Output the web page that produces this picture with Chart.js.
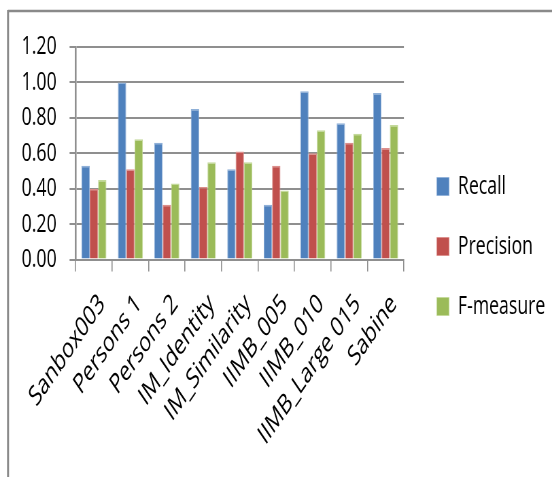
<!DOCTYPE html>
<html>
<head>
<meta charset="utf-8">
<script src="https://cdn.jsdelivr.net/npm/chart.js@4"></script>
<style>
  html, body { margin: 0; padding: 0; background: #fff; overflow: hidden; }
  body { width: 552px; height: 477px; position: relative; }
  /* the chart is laid out wide, then condensed horizontally */
  #stage {
    position: absolute; left: 0; top: 0;
    width: 812px; height: 477px;
    transform: scaleX(0.6798); transform-origin: 0 0;
  }
</style>
</head>
<body>
<div id="stage"><canvas id="chart"></canvas></div>
<script>
// Data sets
const categories = ['Sanbox003', 'Persons 1', 'Persons 2', 'IM_Identity', 'IM_Similarity',
                    'IIMB_005', 'IIMB_010', 'IIMB_Large 015', 'Sabine'];
const recall    = [0.53, 1.00, 0.66, 0.85, 0.51, 0.31, 0.95, 0.77, 0.94];
const precision = [0.40, 0.51, 0.31, 0.41, 0.61, 0.53, 0.60, 0.66, 0.63];
const fMeasure  = [0.45, 0.68, 0.43, 0.55, 0.55, 0.39, 0.73, 0.71, 0.76];
const yTickLabels = ['0.00', '0.20', '0.40', '0.60', '0.80', '1.00', '1.20'];

const FONT = '"Open Sans", "Liberation Sans", sans-serif';
const GRID = '#8f8f8f';

// Outer frame: a gray rule along the top and the left edge
const framePlugin = {
  id: 'frame',
  beforeDraw(chart) {
    const ctx = chart.ctx;
    ctx.save();
    ctx.strokeStyle = '#8a8a8a';
    ctx.lineWidth = 2.5;
    ctx.beginPath();
    ctx.moveTo(11.8, 11);
    ctx.lineTo(chart.width, 11);
    ctx.stroke();
    ctx.lineWidth = 3;
    ctx.beginPath();
    ctx.moveTo(11.8, 10);
    ctx.lineTo(11.8, chart.height);
    ctx.stroke();
    ctx.restore();
  }
};

function series(label, data, fill, edge) {
  return {
    label, data,
    backgroundColor: fill,
    borderColor: edge,
    borderWidth: { top: 1.5, left: 1, right: 1, bottom: 0 },
    categoryPercentage: 0.686,
    barPercentage: 1.0
  };
}

new Chart(document.getElementById('chart'), {
  type: 'bar',
  data: {
    labels: categories,
    datasets: [
      series('Recall', recall, '#4F81BD', '#8fb0d8'),
      series('Precision', precision, '#C0504D', '#dc8e8c'),
      series('F-measure', fMeasure, '#9BBB59', '#c3d99a')
    ]
  },
  options: {
    responsive: true,
    maintainAspectRatio: false,
    animation: false,
    devicePixelRatio: 1,
    layout: { padding: { top: 47, bottom: 31, left: 12, right: 0 } },
    plugins: {
      tooltip: { enabled: false },
      legend: {
        position: 'right',
        align: 'center',
        maxWidth: 203.4,
        labels: {
          font: { family: FONT, size: 26 },
          color: '#000',
          boxWidth: 18,
          boxHeight: 18,
          padding: 34
        }
      }
    },
    scales: {
      x: {
        grid: {
          display: true,
          offset: true,
          drawOnChartArea: false,
          drawTicks: true,
          tickLength: 12,
          color: GRID,
          lineWidth: 1.6
        },
        border: { display: true, color: GRID, width: 2 },
        ticks: {
          autoSkip: false,
          minRotation: 45,
          maxRotation: 45,
          padding: 16,
          labelOffset: 12,
          color: '#000',
          font: { family: FONT, size: 28 }
        },
        afterFit(scale) { scale.height = 186.4; }
      },
      y: {
        min: 0,
        max: 1.2,
        grid: {
          color: GRID,
          lineWidth: 2,
          drawTicks: true,
          tickLength: 9
        },
        border: { display: true, color: GRID, width: 2.6 },
        ticks: {
          stepSize: 0.2,
          padding: 19,
          color: '#000',
          font: { family: FONT, size: 26 },
          callback: (v, i) => yTickLabels[i]
        },
        afterFit(scale) { scale.width = 99.3; }
      },
      // empty spacer between the plot and the legend
      gap: {
        type: 'linear',
        position: 'right',
        display: true,
        grid: { display: false, drawTicks: false },
        ticks: { display: false },
        border: { display: false },
        afterFit(scale) { scale.width = 14.5; }
      }
    }
  },
  plugins: [framePlugin]
});
</script>
</body>
</html>
